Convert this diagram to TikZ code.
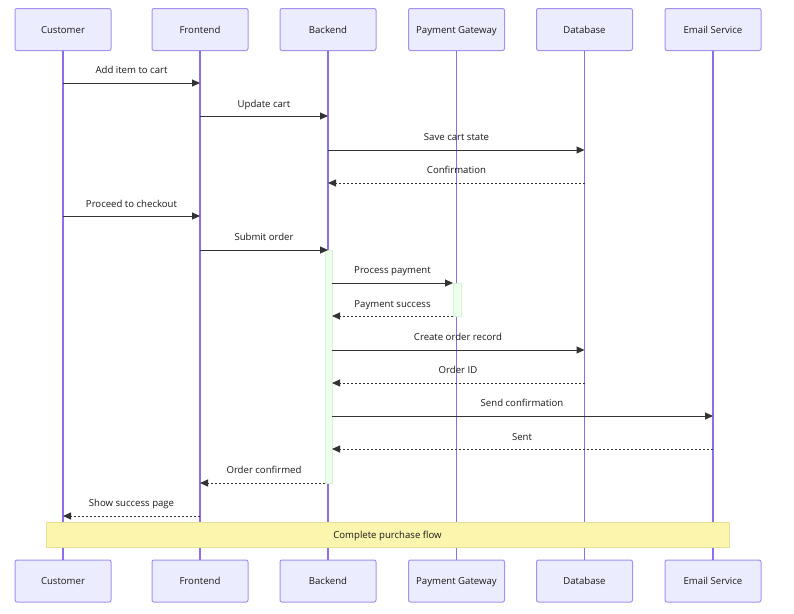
\documentclass[tikz,border=0pt]{standalone}
\usepackage{fontspec}
\setmainfont{Open Sans}
\usetikzlibrary{arrows.meta}
\definecolor{actfill}{HTML}{ECECFF}
\definecolor{actdraw}{HTML}{A690F0}
\definecolor{lifeln}{HTML}{8C6DEB}
\definecolor{msgc}{HTML}{333333}
\definecolor{actvfill}{HTML}{EDFFED}
\definecolor{actvdraw}{HTML}{D2F5D2}
\definecolor{notefill}{HTML}{FCF5AE}
\definecolor{notedraw}{HTML}{E6DE9A}
\begin{document}
\begin{tikzpicture}[x=1pt,y=-1pt,
  actor/.style={draw=actdraw, fill=actfill, rounded corners=2pt, minimum width=96pt, minimum height=42pt, line width=1pt, font=\fontsize{9.6}{11}\selectfont, inner sep=0pt, text=black!90, text height=8pt, text depth=1pt},
  life/.style={draw=lifeln, line width=1.6pt},
  msg/.style={draw=msgc, line width=1pt, -{Triangle[length=8pt,width=7pt]}},
  ret/.style={msg, dash pattern=on 2pt off 2pt},
  lbl/.style={font=\fontsize{9.6}{11}\selectfont, text=black!90, inner sep=0pt, text height=8pt, text depth=1pt},
  actv/.style={draw=actvdraw, fill=actvfill, line width=0.8pt, inner sep=0pt, minimum width=7pt},
  note/.style={draw=notedraw, fill=notefill, line width=1pt, inner sep=0pt, minimum width=683pt, minimum height=25pt, font=\fontsize{9.6}{11}\selectfont, text=black!90, text height=8pt, text depth=1pt}
]
\useasboundingbox (0,0) rectangle (794,613);
\fill[white] (0,0) rectangle (794,613);

% participants
\foreach \n/\x/\t in {c/63/Customer, f/200/Frontend, b/328/Backend, p/456.5/Payment Gateway, d/584.5/Database, e/713/Email Service}{
  \node[actor] (\n T) at (\x,29.5) {\t};
  \node[actor] (\n B) at (\x,581) {\t};
}
% lifelines
\foreach \n in {c,f,b,p,d,e}{
  \draw[life] (\n T.south) -- (\n B.north);
}

% activation bars
\node[actv, minimum height=233pt] (actB) at (328.5,366.5) {};
\node[actv, minimum width=8pt, minimum height=33pt] (actP) at (457,299.5) {};

% note
\node[note] (nt) at (387.5,535) {Complete purchase flow};

% message end points
\coordinate (m1a) at (63,83);   \coordinate (m1b) at (200,83);
\coordinate (m2a) at (200,116); \coordinate (m2b) at (328,116);
\coordinate (m3a) at (328,150); \coordinate (m3b) at (584.5,150);
\coordinate (m4a) at (584.5,183); \coordinate (m4b) at (328,183);
\coordinate (m5a) at (63,216);  \coordinate (m5b) at (200,216);
\coordinate (m6a) at (200,250); \coordinate (m6b) at (328,250);
\coordinate (m7a) at (332,283); \coordinate (m7b) at (453,283);
\coordinate (m8a) at (453,316); \coordinate (m8b) at (332,316);
\coordinate (m9a) at (332,350); \coordinate (m9b) at (584.5,350);
\coordinate (m10a) at (584.5,383); \coordinate (m10b) at (332,383);
\coordinate (m11a) at (332,416); \coordinate (m11b) at (713,416);
\coordinate (m12a) at (713,449); \coordinate (m12b) at (332,449);
\coordinate (m13a) at (325,483); \coordinate (m13b) at (200,483);
\coordinate (m14a) at (200,516); \coordinate (m14b) at (63,516);

\draw[msg] (m1a) -- (m1b);
\draw[msg] (m2a) -- (m2b);
\draw[msg] (m3a) -- (m3b);
\draw[ret] (m4a) -- (m4b);
\draw[msg] (m5a) -- (m5b);
\draw[msg] (m6a) -- (m6b);
\draw[msg] (m7a) -- (m7b);
\draw[ret] (m8a) -- (m8b);
\draw[msg] (m9a) -- (m9b);
\draw[ret] (m10a) -- (m10b);
\draw[msg] (m11a) -- (m11b);
\draw[ret] (m12a) -- (m12b);
\draw[ret] (m13a) -- (m13b);
\draw[ret] (m14a) -- (m14b);

% labels
\node[lbl] (l1) at (131.5,70) {Add item to cart};
\node[lbl] (l2) at (264,103.5) {Update cart};
\node[lbl] (l3) at (456.5,137) {Save cart state};
\node[lbl] (l4) at (456.5,170) {Confirmation};
\node[lbl] (l5) at (131.5,203.5) {Proceed to checkout};
\node[lbl] (l6) at (264,237) {Submit order};
\node[lbl] (l7) at (392.5,270) {Process payment};
\node[lbl] (l8) at (392.5,303.5) {Payment success};
\node[lbl] (l9) at (458,337) {Create order record};
\node[lbl] (l10) at (458,370) {Order ID};
\node[lbl] (l11) at (522,403) {Send confirmation};
\node[lbl] (l12) at (522,436.5) {Sent};
\node[lbl] (l13) at (264,470) {Order confirmed};
\node[lbl] (l14) at (131.5,503) {Show success page};
\end{tikzpicture}
\end{document}
